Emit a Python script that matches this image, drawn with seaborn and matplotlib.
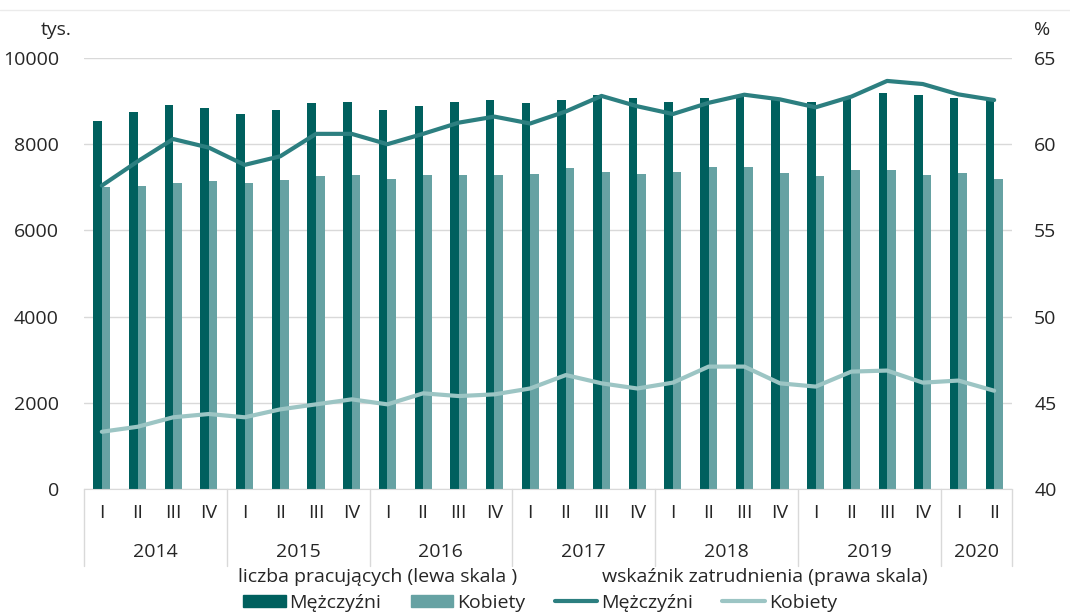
import matplotlib
matplotlib.use("Agg")
import matplotlib.pyplot as plt
import matplotlib.transforms as mtransforms
from matplotlib.patches import Patch
from matplotlib.lines import Line2D
import seaborn as sb
import pandas as pd

years = ["2014", "2015", "2016", "2017", "2018", "2019", "2020"]
quarters = ["I", "II", "III", "IV"] * 6 + ["I", "II"]
periods = [y + " " + q for y in years[:-1] for q in ["I", "II", "III", "IV"]] + ["2020 I", "2020 II"]

# liczba pracujących, tys.
menCount = [8545, 8740, 8910, 8840, 8694, 8786, 8956, 8979,
            8794, 8886, 8979, 9026, 8956, 9026, 9142, 9072,
            8979, 9072, 9142, 9026, 8979, 9049, 9188, 9142,
            9072, 9026]
womenCount = [7007, 7030, 7107, 7154, 7107, 7177, 7254, 7277,
              7200, 7277, 7277, 7277, 7300, 7440, 7347, 7300,
              7347, 7471, 7471, 7324, 7254, 7394, 7394, 7277,
              7324, 7200]

# wskaźnik zatrudnienia, %
menRate = [57.6, 59.0, 60.3, 59.8, 58.8, 59.3, 60.6, 60.6,
           60.0, 60.6, 61.25, 61.6, 61.2, 61.9, 62.8, 62.2,
           61.75, 62.4, 62.87, 62.6, 62.14, 62.76, 63.67, 63.49,
           62.89, 62.56]
womenRate = [43.32, 43.61, 44.16, 44.35, 44.16, 44.62, 44.91, 45.2,
             44.91, 45.55, 45.39, 45.49, 45.83, 46.61, 46.13, 45.83,
             46.17, 47.1, 47.1, 46.13, 45.94, 46.81, 46.87, 46.17,
             46.29, 45.7]

menBarColor = "#00605E"
womenBarColor = "#66A2A3"
menLineColor = "#2C7F80"
womenLineColor = "#9CC5C4"
gridColor = "#D9D9D9"
fontSize = 14

sb.set_style("white")
plt.rcParams['font.family'] = ['Open Sans', 'DejaVu Sans']
plt.rcParams['font.size'] = fontSize

barData = pd.DataFrame({
    "okres": periods * 2,
    "liczba": menCount + womenCount,
    "płeć": ["Mężczyźni"] * len(periods) + ["Kobiety"] * len(periods),
})

fig = plt.figure(figsize=(10.7, 6.15), dpi=100)
ax = fig.add_axes([84/1070, 1-489/615, (1012-84)/1070, (489-58)/615])

sb.barplot(data=barData, x="okres", y="liczba", hue="płeć", order=periods,
           palette=[menBarColor, womenBarColor], width=0.48, gap=0,
           saturation=1, legend=False, ax=ax, linewidth=0, errorbar=None)

ax.set_xlim(-0.5, len(periods)-0.5)
ax.set_ylim(0, 10000)
ax.set_yticks(range(0, 10001, 2000))
ax.yaxis.grid(True, color=gridColor, linewidth=1)
ax.set_axisbelow(True)
ax.set_xlabel("")
ax.set_ylabel("")
ax.set_xticks([])
ax.tick_params(axis='y', length=0, pad=18, labelsize=fontSize)
for sp in ["left", "right", "top"]:
    ax.spines[sp].set_visible(False)
ax.spines["bottom"].set_color(gridColor)

#Right axis with employment rate
ax2 = ax.twinx()
xs = list(range(len(periods)))
sb.lineplot(x=xs, y=menRate, color=menLineColor, linewidth=3, ax=ax2)
sb.lineplot(x=xs, y=womenRate, color=womenLineColor, linewidth=3, ax=ax2)
ax2.set_ylim(40, 65)
ax2.set_yticks(range(40, 66, 5))
ax2.tick_params(axis='y', length=0, pad=16, labelsize=fontSize)
for sp in ax2.spines.values():
    sp.set_visible(False)
ax.set_xlim(-0.5, len(periods)-0.5)

#Multi-level category axis
trans = mtransforms.blended_transform_factory(ax.transData, ax.transAxes)
axH = 489 - 58
for i, q in enumerate(quarters):
    ax.text(i, -24/axH, q, transform=trans, ha="center", va="center", fontsize=fontSize)
bounds = [-0.5, 3.5, 7.5, 11.5, 15.5, 19.5, 23.5, 25.5]
for k, y in enumerate(years):
    mid = (bounds[k] + bounds[k+1]) / 2
    ax.text(mid, -63/axH, y, transform=trans, ha="center", va="center", fontsize=fontSize)
for b in bounds:
    ax.plot([b, b], [0, -77/axH], transform=trans, color=gridColor, linewidth=1, clip_on=False)

#Units
fig.text(56/1070, 1-30/615, "tys.", ha="center", va="center", fontsize=fontSize)
fig.text(1042/1070, 1-30/615, "%", ha="center", va="center", fontsize=fontSize)

#Top border line
fig.add_artist(Line2D([0, 1], [1-10/615, 1-10/615], color="#EBEBEB", linewidth=1))

#Legend
fig.text(378/1070, 1-577/615, "liczba pracujących (lewa skala )", ha="center", va="center", fontsize=fontSize)
fig.text(765/1070, 1-577/615, "wskaźnik zatrudnienia (prawa skala)", ha="center", va="center", fontsize=fontSize)
handles = [Patch(color=menBarColor, label="Mężczyźni"),
           Patch(color=womenBarColor, label="Kobiety"),
           Line2D([], [], color=menLineColor, linewidth=3, label="Mężczyźni"),
           Line2D([], [], color=womenLineColor, linewidth=3, label="Kobiety")]
fig.legend(handles=handles, loc="center", bbox_to_anchor=(540/1070, 1-603/615), ncol=4,
           frameon=False, fontsize=fontSize, handlelength=2.2, handleheight=0.6,
           handletextpad=0.2, columnspacing=1.5, borderaxespad=0)

fig.savefig("out.png", dpi=100)
